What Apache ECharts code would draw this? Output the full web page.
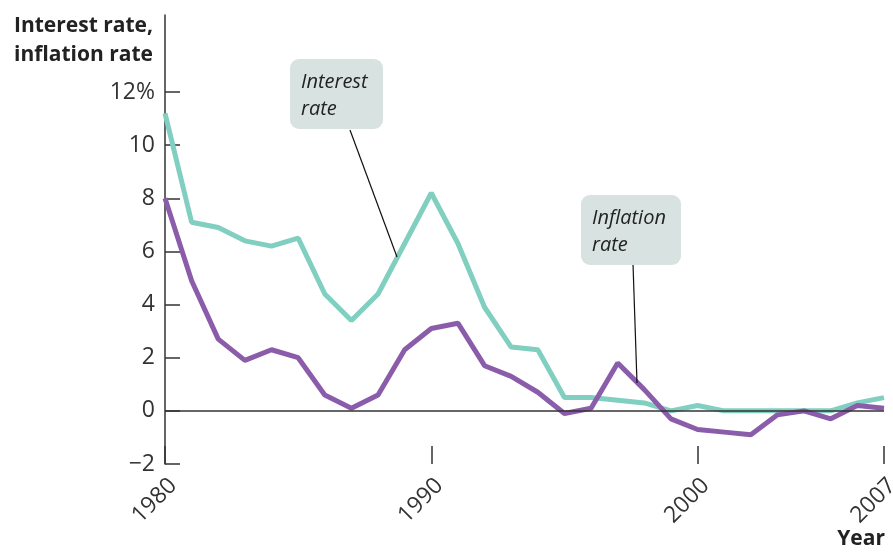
<!DOCTYPE html>
<html>
<head>
<meta charset="utf-8">
<script src="https://cdn.jsdelivr.net/npm/echarts@6/dist/echarts.min.js"></script>
<style>html,body{margin:0;padding:0;background:#fff;}#c{width:893px;height:554px;}</style>
</head>
<body>
<div id="c"></div>
<script>
const years = ['1980','1981','1982','1983','1984','1985','1986','1987','1988','1989','1990','1991','1992','1993','1994','1995','1996','1997','1998','1999','2000','2001','2002','2003','2004','2005','2006','2007'];
const interestRate = [11.2,7.1,6.9,6.4,6.2,6.5,4.4,3.4,4.4,6.3,8.2,6.3,3.9,2.4,2.3,0.5,0.5,0.4,0.3,0.0,0.2,0.0,0.0,0.0,0.0,0.0,0.3,0.5];
const inflationRate = [8.0,4.9,2.7,1.9,2.3,2.0,0.6,0.1,0.6,2.3,3.1,3.3,1.7,1.3,0.7,-0.1,0.1,1.8,0.8,-0.3,-0.7,-0.8,-0.9,-0.15,0.0,-0.3,0.2,0.1];
const yTicks = [-2,0,2,4,6,8,10,12];
const xTickYears = ['1980','1990','2000','2007'];

const chart = echarts.init(document.getElementById('c'));
const font = '"Open Sans", "Noto Sans", sans-serif';
const tickFont = '"Liberation Sans Narrow", "Open Sans", sans-serif';
chart.setOption({
  animation: false,
  title: {
    text: 'Interest rate,\ninflation rate',
    left: 9, top: 7,
    textStyle: { fontFamily: font, fontSize: 21, fontWeight: 'bold', color: '#222', lineHeight: 29 }
  },
  grid: { left: 165, right: 9, top: 15, bottom: 90, containLabel: false, outerBoundsMode: 'none' },
  xAxis: {
    type: 'category',
    data: years,
    boundaryGap: false,
    axisLine: { show: false, onZero: false },
    axisTick: {
      show: true, inside: true, length: 18,
      interval: (i, v) => xTickYears.indexOf(v) >= 0,
      lineStyle: { color: '#333', width: 1.5 }
    },
    axisLabel: {
      interval: (i, v) => xTickYears.indexOf(v) >= 0,
      rotate: 45, margin: 10, verticalAlign: 'top',
      fontFamily: tickFont, fontSize: 23, color: '#333'
    },
    splitLine: { show: false }
  },
  yAxis: {
    type: 'value',
    min: -2, max: 14.9,
    axisLine: { show: true, lineStyle: { color: '#333', width: 1.5 } },
    axisTick: { show: true, inside: true, length: 15, customValues: yTicks, lineStyle: { color: '#333', width: 1.5 } },
    axisLabel: {
      customValues: yTicks, margin: 10,
      fontFamily: tickFont, fontSize: 23, color: '#333',
      formatter: v => v === 12 ? '12%' : (v < 0 ? '\u2212' + Math.abs(v) : String(v))
    },
    splitLine: { show: false }
  },
  series: [
    {
      name: 'Interest rate', type: 'line', data: interestRate,
      symbol: 'none', lineStyle: { color: '#80cfc0', width: 5 }, z: 3,
      markLine: {
        silent: true, symbol: 'none', label: { show: false },
        lineStyle: { color: '#333', width: 1.5, type: 'solid' },
        data: [{ yAxis: 0 }]
      }
    },
    {
      name: 'Inflation rate', type: 'line', data: inflationRate,
      symbol: 'none', lineStyle: { color: '#8a5ca9', width: 5 }, z: 4
    }
  ],
  graphic: [
    { type: 'line', shape: { x1: 350, y1: 130, x2: 397, y2: 257 }, style: { stroke: '#111', lineWidth: 1.2 }, z: 10 },
    { type: 'rect', shape: { x: 290, y: 59, width: 93, height: 70, r: 9 }, style: { fill: '#d8e2e0' }, z: 11 },
    { type: 'text', left: 301, top: 69, style: { text: 'Interest\nrate', fontFamily: font, fontStyle: 'italic', fontSize: 20, lineHeight: 27, fill: '#222' }, z: 12 },
    { type: 'line', shape: { x1: 633, y1: 264, x2: 637, y2: 383 }, style: { stroke: '#111', lineWidth: 1.2 }, z: 10 },
    { type: 'rect', shape: { x: 581, y: 195, width: 100, height: 70, r: 9 }, style: { fill: '#d8e2e0' }, z: 11 },
    { type: 'text', left: 592, top: 205, style: { text: 'Inflation\nrate', fontFamily: font, fontStyle: 'italic', fontSize: 20, lineHeight: 27, fill: '#222' }, z: 12 },
    { type: 'text', right: 8, top: 529, style: { text: 'Year', fontFamily: font, fontWeight: 'bold', fontSize: 21, fill: '#222' }, z: 12 }
  ]
});
</script>
</body>
</html>
